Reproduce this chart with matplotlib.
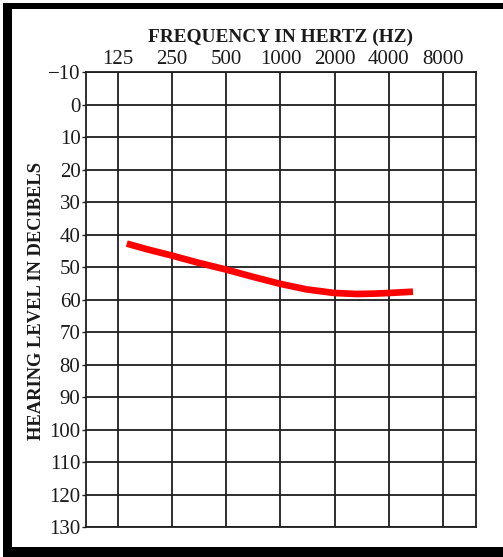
import matplotlib
matplotlib.use('Agg')
import matplotlib.pyplot as plt
from matplotlib.patches import Rectangle

# audiogram axes
freq_ticks=[125,250,500,1000,2000,4000,8000]
freq_labels=['125','250','500','1000','2000','4000','8000']
db_ticks=list(range(-10,131,10))
db_labels=['\u221210']+[str(v) for v in range(0,131,10)]

# red hearing curve
curve_hz=[140,180,250,350,500,700,1000,1400,2000,2650,3300,4000,5450]
curve_db=[42.8,44.5,46.5,48.7,50.8,53.0,55.2,56.9,58.0,58.3,58.2,58.0,57.6]

W,H=503,557
fig=plt.figure(figsize=(W/100,H/100),dpi=100)
fig.patch.set_facecolor('white')
ax=fig.add_axes([86/W,1-527/H,(476-86)/W,(527-72)/H])

ax.set_xscale('log',base=2)
ax.set_xlim(125*2**-0.59,8000*2**0.61)
ax.set_ylim(130,-10)
ax.set_xticks(freq_ticks)
ax.set_xticklabels(freq_labels)
ax.minorticks_off()
ax.set_yticks(db_ticks)
ax.set_yticklabels(db_labels)
ax.xaxis.tick_top()
ax.tick_params(axis='x',length=0,pad=2,labelsize=15,labelcolor='#1a1a1a')
ax.tick_params(axis='y',length=3,width=1,pad=1,labelsize=15,labelcolor='#1a1a1a',color='#222222')
for lab in ax.get_xticklabels()+ax.get_yticklabels():
    lab.set_fontfamily('Liberation Serif')

ax.grid(True,color='#1e1e1e',linewidth=1.3)
for s in ax.spines.values():
    s.set_color('#1e1e1e')
    s.set_linewidth(1.3)

ax.plot(curve_hz,curve_db,color='#ff0000',linewidth=4.8,solid_capstyle='butt',zorder=5)

fig.text(280/W,1-37/H,'FREQUENCY IN HERTZ (HZ)',ha='center',va='center',
         fontsize=13.9,fontweight='bold',family='Liberation Serif',color='#1a1a1a')
fig.text(37/W,1-301/H,'HEARING LEVEL IN DECIBELS',ha='center',va='center',rotation=90,
         fontsize=13.3,fontweight='bold',family='Liberation Serif',color='#1a1a1a')

# black frame (left, top, bottom)
for x0,y0,w,h in [(3,3,9,554),(3,3,500,6),(3,547,500,10)]:
    fig.add_artist(Rectangle((x0/W,1-(y0+h)/H),w/W,h/H,transform=fig.transFigure,
                             facecolor='black',edgecolor='none'))

fig.savefig('out.png',dpi=100)
